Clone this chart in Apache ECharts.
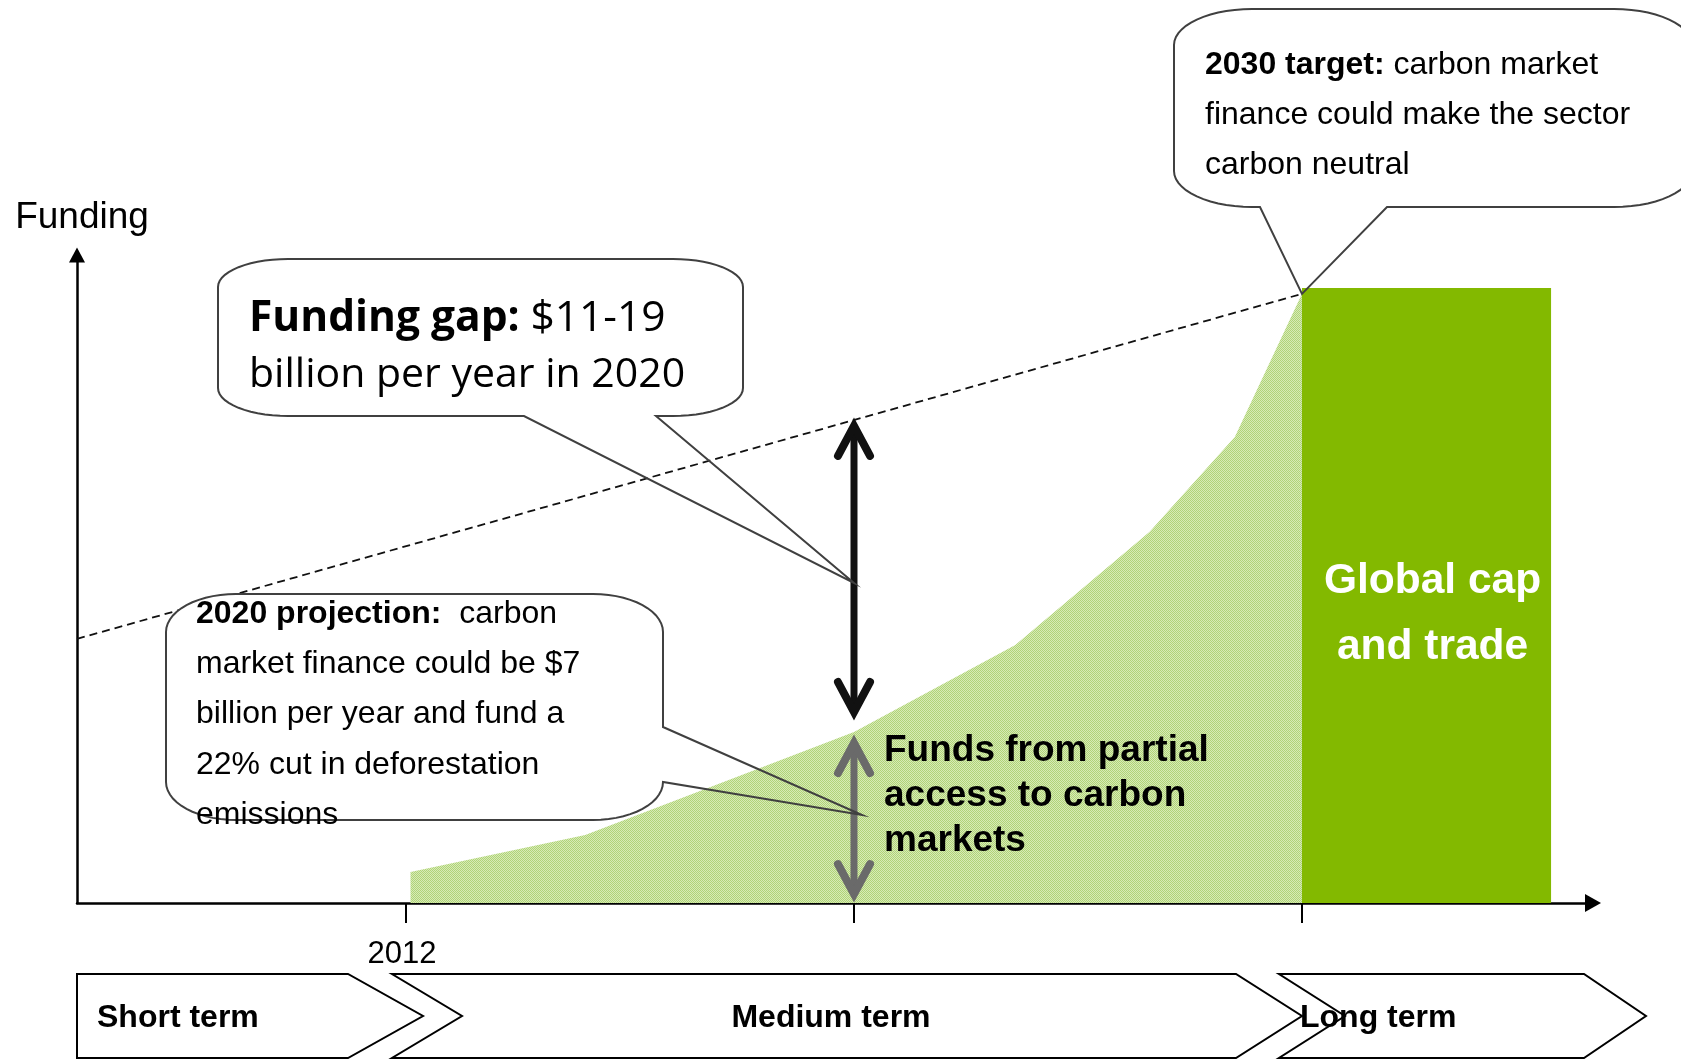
<!DOCTYPE html>
<html>
<head>
<meta charset="utf-8">
<script src="https://cdn.jsdelivr.net/npm/echarts@6/dist/echarts.min.js"></script>
<style>
  html, body { margin: 0; padding: 0; background: #ffffff; }
  #chart { width: 1681px; height: 1059px; }
</style>
</head>
<body>
<div id="chart"></div>
<script>
// Timeline positions: 0 = 2012, 1 = 2020, 2 = 2030
const timelineTicks = [0, 1, 2];
const tickLabels = ['2012', '', ''];

// Carbon-market finance available (US$ billion per year)
const carbonFinanceX = [0.01, 0.40, 1.00, 1.36, 1.66, 1.85, 2.00];
const carbonFinanceY = [1.27, 2.78, 7.00, 10.56, 15.19, 19.07, 24.93];

// Funding needed to make the sector carbon neutral by 2030
const targetX = [-0.7344, 2.00];
const targetY = [10.81, 24.93];

// Global cap and trade from 2030 on
const capTradeSpan = [2.00, 2.556];
const capTradeLevel = [25.17];

// Double arrows at 2020: [x, from, to]
const gapArrow = [1, 7.57, 19.77];
const partialArrow = [1, 0.12, 6.79];

// Points the callouts refer to: [x, y]
const gapCalloutPoint = [1, 13.1];
const projectionCalloutPoint = [1.018, 3.6];
const targetCalloutPoint = [2.0, 24.93];

const phaseNames = ['Short term', 'Medium term', 'Long term'];

const FONT = '"Liberation Sans", Arial, Helvetica, sans-serif';
const chart = echarts.init(document.getElementById('chart'));

// fine dotted texture for the carbon-finance area
const tex = document.createElement('canvas');
tex.width = 2; tex.height = 2;
const tctx = tex.getContext('2d');
tctx.fillStyle = '#d7ebb6'; tctx.fillRect(0, 0, 2, 2);
tctx.fillStyle = '#b0d378'; tctx.fillRect(0, 0, 1, 1); tctx.fillRect(1, 1, 1, 1);

const arrowColors = ['#111111', '#6a6a6a'];

chart.setOption({
  animation: false,
  grid: { left: 77, top: 255, width: 1516, height: 648, containLabel: false },
  xAxis: {
    type: 'value', min: -0.7344, max: 2.6496,
    splitLine: { show: false },
    axisLine: { show: true, onZero: false, symbol: ['none', 'triangle'], symbolSize: [18, 16],
      lineStyle: { color: '#000', width: 2.5 } },
    axisTick: { show: true, customValues: timelineTicks, length: 20, inside: false,
      lineStyle: { color: '#000', width: 2 } },
    axisLabel: { show: true, customValues: timelineTicks, margin: 36,
      formatter: v => tickLabels[timelineTicks.indexOf(v)] || '',
      color: '#000', fontSize: 31, fontFamily: FONT, padding: [0, 8, 0, 0] }
  },
  yAxis: {
    type: 'value', min: 0, max: 26.52,
    splitLine: { show: false }, axisTick: { show: false }, axisLabel: { show: false },
    axisLine: { show: true, onZero: false, symbol: ['none', 'triangle'], symbolSize: [16, 15],
      lineStyle: { color: '#000', width: 2.5 } },
    name: 'Funding', nameLocation: 'end', nameGap: 19,
    nameTextStyle: { color: '#000', fontSize: 37, fontFamily: FONT, padding: [0, 0, 0, 10] }
  },
  series: [
    {
      name: 'Carbon market finance', type: 'line', z: 1, silent: true,
      data: carbonFinanceX.map((x, i) => [x, carbonFinanceY[i]]),
      symbol: 'none', lineStyle: { width: 0, opacity: 0 },
      areaStyle: { color: { image: tex, repeat: 'repeat' }, opacity: 1 }
    },
    {
      name: 'Global cap and trade', type: 'custom', z: 2, clip: false, silent: true,
      data: [[capTradeSpan[0], capTradeSpan[1], capTradeLevel[0]]],
      renderItem: (params, api) => {
        const tl = api.coord([api.value(0), api.value(2)]);
        const br = api.coord([api.value(1), 0]);
        return {
          type: 'group', children: [
            { type: 'rect', shape: { x: tl[0], y: tl[1], width: br[0] - tl[0], height: br[1] - tl[1] },
              style: { fill: '#83b900' } },
            { type: 'text', x: (tl[0] + br[0]) / 2 + 6, y: (tl[1] + br[1]) / 2 + 19,
              style: { text: 'Global cap\nand trade', fill: '#ffffff', fontSize: 42.5, fontWeight: 'bold',
                fontFamily: FONT, align: 'center', verticalAlign: 'middle', lineHeight: 66 } }
          ]
        };
      }
    },
    {
      name: 'Target', type: 'line', z: 3, silent: true,
      data: targetX.map((x, i) => [x, targetY[i]]),
      symbol: 'none', lineStyle: { color: '#111', width: 1.8, type: [8, 5] }
    },
    {
      name: 'Arrows', type: 'custom', z: 4, clip: false, silent: true,
      data: [gapArrow, partialArrow],
      renderItem: (params, api) => {
        const color = arrowColors[params.dataIndex];
        const a = api.coord([api.value(0), api.value(1)]);
        const b = api.coord([api.value(0), api.value(2)]);
        const head = 30, half = 16, inset = 6;
        const lo = [a[0], a[1] - inset];
        const hi = [b[0], b[1] + inset];
        const headStyle = { stroke: color, lineWidth: 8, fill: 'none', lineJoin: 'miter', lineCap: 'round' };
        return {
          type: 'group', children: [
            { type: 'line', shape: { x1: lo[0], y1: lo[1], x2: hi[0], y2: hi[1] },
              style: { stroke: color, lineWidth: 7 } },
            { type: 'polyline', shape: { points: [[hi[0] - half, hi[1] + head], hi, [hi[0] + half, hi[1] + head]] },
              style: headStyle },
            { type: 'polyline', shape: { points: [[lo[0] - half, lo[1] - head], lo, [lo[0] + half, lo[1] - head]] },
              style: headStyle }
          ]
        };
      }
    }
  ]
});

const toPx = p => chart.convertToPixel({ gridIndex: 0 }, p);

// rounded callout box with a wedge pointing at tip
function calloutShape(b, tail, tip) {
  const N = 14;
  const box = [], outline = [];
  const arc = (list, cx, cy, a0, a1) => {
    for (let i = 0; i <= N; i++) {
      const t = a0 + (a1 - a0) * i / N;
      list.push([cx + b.rx * Math.cos(t), cy + b.ry * Math.sin(t)]);
    }
  };
  [box, outline].forEach((list, k) => {
    arc(list, b.x1 - b.rx, b.y0 + b.ry, -Math.PI / 2, 0);
    if (k === 1 && tail.side === 'right') list.push([b.x1, tail.a], tip, [b.x1, tail.b]);
    arc(list, b.x1 - b.rx, b.y1 - b.ry, 0, Math.PI / 2);
    if (k === 1 && tail.side === 'bottom') list.push([tail.a, b.y1], tip, [tail.b, b.y1]);
    arc(list, b.x0 + b.rx, b.y1 - b.ry, Math.PI / 2, Math.PI);
    arc(list, b.x0 + b.rx, b.y0 + b.ry, Math.PI, 1.5 * Math.PI);
  });
  outline.push(outline[0]);
  return [
    { type: 'polygon', z: 20, silent: true, shape: { points: box }, style: { fill: '#ffffff', stroke: 'none' } },
    { type: 'polyline', z: 21, silent: true, shape: { points: outline },
      style: { stroke: '#404040', lineWidth: 2, fill: 'none' } }
  ];
}

function richText(x, y, text, size, lineHeight, family, boldSize) {
  return {
    type: 'text', z: 22, silent: true, x: x, y: y,
    style: {
      text: text, fill: '#000', fontSize: size, fontFamily: family, lineHeight: lineHeight,
      verticalAlign: 'top', align: 'left',
      rich: { b: { fontWeight: 'bold', fontSize: boldSize || size, fontFamily: family, lineHeight: lineHeight, fill: '#000' } }
    }
  };
}

const graphics = [];

// Funding gap callout
graphics.push(...calloutShape({ x0: 218, y0: 259, x1: 743, y1: 416, rx: 70, ry: 28 },
  { side: 'bottom', a: 656, b: 524 }, toPx(gapCalloutPoint)));
graphics.push(richText(249, 290, '{b|Funding gap:} {r|$11-19}\nbillion per year in 2020', 41, 57,
  '"Open Sans", "Noto Sans", sans-serif', 42.5));
graphics[graphics.length - 1].style.rich.r = {
  fontSize: 42.5, fontFamily: '"Open Sans", "Noto Sans", sans-serif', lineHeight: 57, fill: '#000'
};

// 2020 projection callout
graphics.push(...calloutShape({ x0: 166, y0: 594, x1: 663, y1: 820, rx: 70, ry: 38 },
  { side: 'right', a: 727, b: 782 }, toPx(projectionCalloutPoint)));
graphics.push(richText(196, 589,
  '{b|2020 projection:}  carbon\nmarket finance could be $7\nbillion per year and fund a\n22% cut in deforestation\nemissions',
  32, 50.2, FONT));

// 2030 target callout
graphics.push(...calloutShape({ x0: 1174, y0: 9, x1: 1692, y1: 207, rx: 78, ry: 36 },
  { side: 'bottom', a: 1387, b: 1260 }, toPx(targetCalloutPoint)));
graphics.push(richText(1205, 40,
  '{b|2030 target:} carbon market\nfinance could make the sector\ncarbon neutral', 32, 50, FONT));

// label for the partial-access arrow
graphics.push({
  type: 'text', z: 22, silent: true, x: 884, y: 728,
  style: { text: 'Funds from partial\naccess to carbon\nmarkets', fill: '#000', fontSize: 37, fontWeight: 'bold',
    fontFamily: FONT, lineHeight: 45, verticalAlign: 'top', align: 'left' }
});

// phase chevrons along the timeline
const tick0 = toPx([timelineTicks[0], 0])[0];
const tick2 = toPx([timelineTicks[2], 0])[0];
const axisStart = toPx([-0.7344, 0])[0];
const chevTop = 974, chevMid = 1016, chevBot = 1058;
const chevrons = [
  [[axisStart, chevTop], [tick0 - 58, chevTop], [tick0 + 17, chevMid], [tick0 - 58, chevBot], [axisStart, chevBot]],
  [[tick0 - 14, chevTop], [tick2 - 66, chevTop], [tick2, chevMid], [tick2 - 66, chevBot], [tick0 - 14, chevBot], [tick0 + 56, chevMid]],
  [[tick2 - 23, chevTop], [tick2 + 282, chevTop], [tick2 + 344, chevMid], [tick2 + 282, chevBot], [tick2 - 23, chevBot], [tick2 + 43, chevMid]]
];
chevrons.forEach(pts => graphics.push({
  type: 'polygon', z: 20, silent: true, shape: { points: pts },
  style: { fill: '#ffffff', stroke: '#000', lineWidth: 2 }
}));
const phaseLabelPos = [[97, 'left'], [831, 'center'], [1300, 'left']];
phaseNames.forEach((name, i) => graphics.push({
  type: 'text', z: 22, silent: true, x: phaseLabelPos[i][0], y: chevMid + 2,
  style: { text: name, fill: '#000', fontSize: 32, fontWeight: 'bold', fontFamily: FONT,
    align: phaseLabelPos[i][1], verticalAlign: 'middle' }
}));

chart.setOption({ graphic: { elements: graphics } });
</script>
</body>
</html>
